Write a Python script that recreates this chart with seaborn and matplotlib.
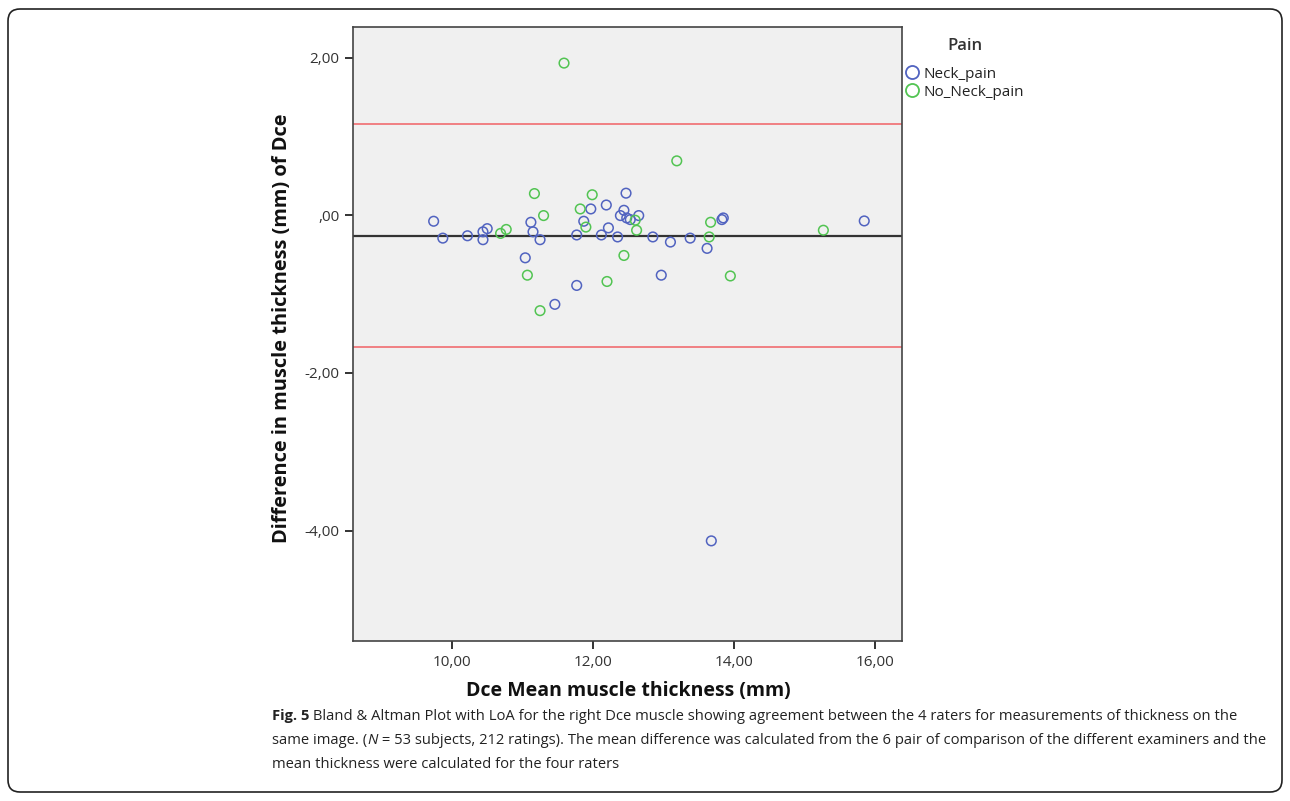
import numpy as np
import pandas as pd
import matplotlib
matplotlib.use("Agg")
import matplotlib.pyplot as plt
import seaborn as sns
from matplotlib.lines import Line2D
from matplotlib.patches import FancyBboxPatch

# values (mean thickness, difference), per group
neck_mean = [9.74, 9.87, 10.22, 10.44, 10.50, 10.44, 11.12, 11.15, 11.25, 11.04,
             11.46, 11.77, 11.77, 11.97, 11.87, 12.19, 12.47, 12.44, 12.39, 12.48,
             12.53, 12.65, 12.22, 12.12, 12.35, 12.85, 13.10, 13.38, 13.62, 13.83,
             13.85, 12.97, 15.85, 13.68]
neck_diff = [-0.076, -0.29, -0.26, -0.21, -0.17, -0.31, -0.089, -0.21, -0.31, -0.54,
             -1.13, -0.89, -0.25, 0.08, -0.076, 0.13, 0.28, 0.063, -0.004, -0.034,
             -0.055, -0.004, -0.16, -0.25, -0.275, -0.275, -0.34, -0.29, -0.42, -0.055,
             -0.034, -0.76, -0.072, -4.13]
no_neck_mean = [11.17, 11.30, 10.69, 10.77, 11.07, 11.25, 11.99, 11.82, 11.90, 13.19,
                12.60, 12.62, 12.44, 12.20, 13.67, 13.65, 13.95, 15.27, 11.59]
no_neck_diff = [0.275, -0.004, -0.23, -0.18, -0.76, -1.21, 0.26, 0.08, -0.15, 0.69,
                -0.063, -0.19, -0.51, -0.84, -0.089, -0.275, -0.77, -0.19, 1.93]

groups = ["Neck_pain", "No_Neck_pain"]
mean_diff = -0.262
loa_upper = 1.154
loa_lower = -1.674

x_ticks = [10, 12, 14, 16]
x_ticklabels = ["10,00", "12,00", "14,00", "16,00"]
y_ticks = [2, 0, -2, -4]
y_ticklabels = ["2,00", ",00", "-2,00", "-4,00"]

df = pd.DataFrame({
    "mean": neck_mean + no_neck_mean,
    "diff": neck_diff + no_neck_diff,
    "Pain": [groups[0]] * len(neck_mean) + [groups[1]] * len(no_neck_mean),
})

sns.set_theme(style="white")
plt.rcParams["font.family"] = ["Open Sans", "DejaVu Sans"]

W, H = 1290, 801
fig = plt.figure(figsize=(W / 100, H / 100), dpi=100)
fig.patch.set_facecolor("white")

# rounded frame round the whole figure
fig.patches.append(FancyBboxPatch((8, 9), 1274, 783, boxstyle="round,pad=0,rounding_size=12",
                                  transform=None, fill=False, edgecolor="#222222", linewidth=1.2))

ax = fig.add_axes([353.3 / W, 1 - 641 / H, 549 / W, 613.7 / H])
ax.set_facecolor("#f0f0f0")

colors = {"Neck_pain": "#5163c0", "No_Neck_pain": "#52c452"}
for g in groups:
    sns.scatterplot(data=df[df["Pain"] == g], x="mean", y="diff", ax=ax,
                    facecolor="none", edgecolor=colors[g], linewidth=1.1, s=48, zorder=3)

ax.axhline(mean_diff, color="#333333", lw=1.6, zorder=2)
ax.axhline(loa_upper, color="#f07f83", lw=1.4, zorder=2)
ax.axhline(loa_lower, color="#f07f83", lw=1.4, zorder=2)

ax.set_xlim(8.60, 16.39)
ax.set_ylim(-5.40, 2.384)
ax.set_xticks(x_ticks)
ax.set_xticklabels(x_ticklabels)
ax.set_yticks(y_ticks)
ax.set_yticklabels(y_ticklabels)
ax.tick_params(length=6, width=1.4, color="#333333", labelsize=11, labelcolor="#333333",
               bottom=True, left=True, direction="out", pad=4)
for sp in ax.spines.values():
    sp.set_color("#444444")
    sp.set_linewidth(1.2)

ax.set_xlabel("Dce Mean muscle thickness (mm)", fontsize=14, fontweight="bold",
              color="#111111")
ax.set_ylabel("Difference in muscle thickness (mm) of Dce", fontsize=14.4, fontweight="bold",
              color="#111111")
ax.xaxis.set_label_coords((628 - 353.3) / 549, (641 - 691) / 613.7)
ax.yaxis.set_label_coords((282 - 353.3) / 549, (641 - 328.5) / 613.7)
ax.xaxis.label.set_va("center")
ax.yaxis.label.set_va("center")

# legend: title drawn as its own text, entries below it
fig.text(965 / W, 1 - 46 / H, "Pain", fontsize=12, fontweight="semibold", color="#333333",
         ha="center", va="center")
handles = [Line2D([], [], marker="o", ls="none", markerfacecolor="none",
                  markeredgecolor=colors[g], markersize=9.4, markeredgewidth=1.3) for g in groups]
leg = fig.legend(handles, groups, loc="upper left",
                 bbox_to_anchor=(895 / W, 1 - 56 / H), frameon=False, fontsize=11,
                 handlelength=0.8, handletextpad=0.35, labelspacing=0.19, borderpad=0.2)
for t in leg.get_texts():
    t.set_color("#222222")

# caption with mixed bold / italic runs
renderer = fig.canvas.get_renderer()
cap_size = 10.65


def caption_line(x, y, runs):
    for txt, kw in runs:
        t = fig.text(x / W, 1 - y / H, txt, fontsize=cap_size, va="center", ha="left",
                     color="#222222", **kw)
        x += t.get_window_extent(renderer).width


caption_line(272, 716, [("Fig. 5", {"fontweight": "bold"}),
                        (" Bland & Altman Plot with LoA for the right Dce muscle showing agreement between "
                         "the 4 raters for measurements of thickness on the", {})])
caption_line(272, 741, [("same image. (", {}), ("N", {"style": "italic"}),
                        (" = 53 subjects, 212 ratings). The mean difference was calculated from the 6 pair "
                         "of comparison of the different examiners and the", {})])
caption_line(272, 765, [("mean thickness were calculated for the four raters", {})])

fig.savefig("out.png", dpi=100)
